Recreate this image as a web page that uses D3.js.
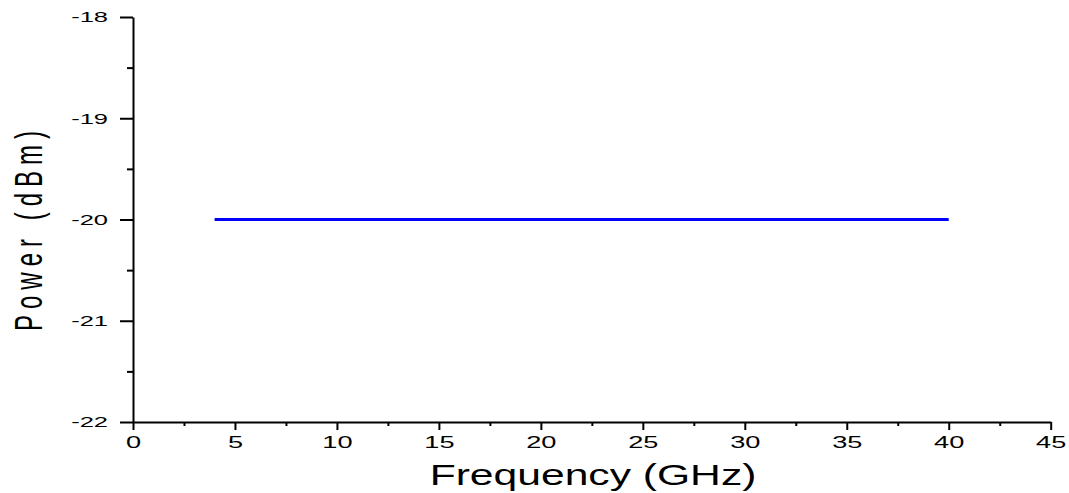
<!DOCTYPE html>
<html>
<head>
<meta charset="utf-8">
<script src="https://cdn.jsdelivr.net/npm/d3@7"></script>
<style>
  body { margin: 0; background: #fff; }
  svg { display: block; font-family: "Liberation Sans", Arial, sans-serif; }
  .axis path, .axis line { stroke: #000; stroke-width: 2; }
</style>
</head>
<body>
<div id="chart"></div>
<script>
// data
var frequency = [4, 40];          // GHz
var power = [-20, -20];           // dBm
var xTicks = [0, 5, 10, 15, 20, 25, 30, 35, 40, 45];
var xMinor = [2.5, 7.5, 12.5, 17.5, 22.5, 27.5, 32.5, 37.5, 42.5];
var yTicks = [-18, -19, -20, -21, -22];
var yMinor = [-18.5, -19.5, -20.5, -21.5];

var W = 1069, H = 493;
var plotLeft = 133, plotRight = 1050.7, plotTop = 17, plotBottom = 422;

// text in the original is stretched sideways
var sx = 1.7;

var x = d3.scaleLinear().domain([0, 45]).range([plotLeft, plotRight]);
var y = d3.scaleLinear().domain([-22, -18]).range([plotBottom, plotTop]);

var svg = d3.select("#chart").append("svg")
    .attr("width", W)
    .attr("height", H);

// minor ticks
svg.append("g")
    .attr("class", "axis")
    .attr("transform", "translate(0," + plotBottom + ")")
    .call(d3.axisBottom(x).tickValues(xMinor).tickSize(4).tickFormat(""))
    .select(".domain").remove();

svg.append("g")
    .attr("class", "axis")
    .attr("transform", "translate(" + plotLeft + ",0)")
    .call(d3.axisLeft(y).tickValues(yMinor).tickSize(6).tickFormat(""))
    .select(".domain").remove();

// x axis
var gx = svg.append("g")
    .attr("class", "axis")
    .attr("transform", "translate(0," + plotBottom + ")")
    .call(d3.axisBottom(x).tickValues(xTicks).tickSize(8).tickPadding(7).tickSizeOuter(0)
      .tickFormat(function(d) { return String(d); }));
gx.selectAll("text")
    .attr("font-size", 16)
    .attr("font-family", "Liberation Sans, Arial, sans-serif")
    .attr("fill", "#000")
    .attr("transform", "scale(" + sx + ",1)");

// y axis
var yPad = 25;
var gy = svg.append("g")
    .attr("class", "axis")
    .attr("transform", "translate(" + plotLeft + ",0)")
    .call(d3.axisLeft(y).tickValues(yTicks).tickSize(13).tickPadding(12).tickSizeOuter(0)
      .tickFormat(function(d) { return String(d); }));
gy.selectAll("text")
    .attr("font-size", 15)
    .attr("font-family", "Liberation Sans, Arial, sans-serif")
    .attr("fill", "#000")
    .attr("x", -yPad / sx)
    .attr("transform", "scale(" + sx + ",1)");

// the series
var line = d3.line()
    .x(function(d, i) { return x(frequency[i]); })
    .y(function(d) { return y(d); });

svg.append("path")
    .datum(power)
    .attr("fill", "none")
    .attr("stroke", "#0000ff")
    .attr("stroke-width", 3)
    .attr("d", line);

// axis titles
svg.append("text")
    .attr("transform", "translate(593,485) scale(1.47,1)")
    .attr("text-anchor", "middle")
    .attr("font-size", 29)
    .text("Frequency (GHz)");

svg.append("text")
    .attr("transform", "translate(42,228) scale(1.65,1) rotate(-90)")
    .attr("text-anchor", "middle")
    .attr("font-size", 24)
    .attr("letter-spacing", "6px")
    .text("Power (dBm)");
</script>
</body>
</html>
